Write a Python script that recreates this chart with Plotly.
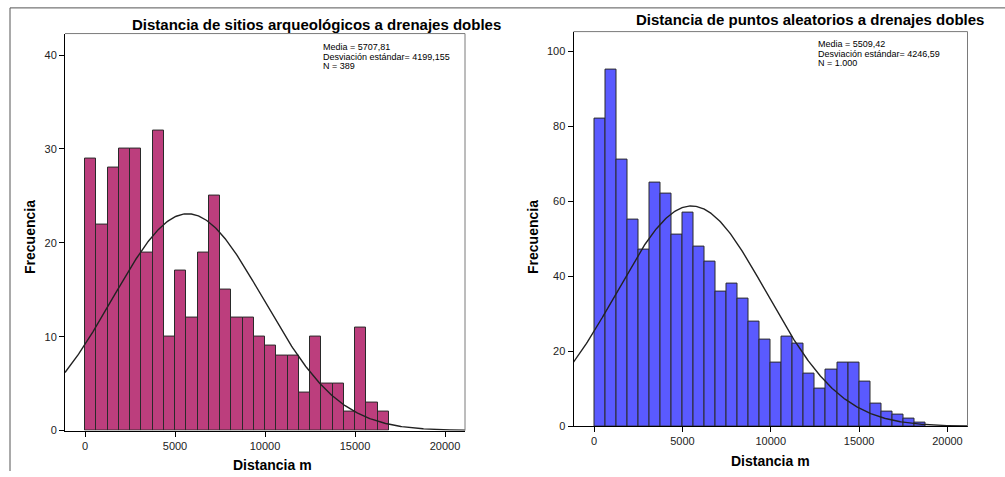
import numpy as np
import plotly.graph_objects as go

# ---------------- data ----------------
bin_width = 625
left_counts = [29, 22, 28, 30, 30, 19, 32, 10, 17, 12, 19, 25, 15, 12, 12, 10, 9, 8, 8, 4,
               10, 5, 5, 2, 11, 3, 2]
right_counts = [82, 95, 71, 55, 47, 65, 62, 51, 57, 48, 44, 36, 38, 34, 28, 23, 17, 24, 22, 14,
                10, 15, 17, 17, 12, 6, 4, 3, 2, 1]
left_stats = dict(mean=5707.81, sd=4199.155, n=389)
right_stats = dict(mean=5509.42, sd=4246.59, n=1000)
left_title = "Distancia de sitios arqueológicos a drenajes dobles"
right_title = "Distancia de puntos aleatorios a drenajes dobles"
left_lines = ["Media = 5707,81", "Desviación estándar= 4199,155", "N = 389"]
right_lines = ["Media = 5509,42", "Desviación estándar= 4246,59", "N = 1.000"]
x_ticks = [0, 5000, 10000, 15000, 20000]
x_ticktext = ["0", "5000", "10000", "15000", "20000"]
left_yticks = [0, 10, 20, 30, 40]
right_yticks = [0, 20, 40, 60, 80, 100]

# ---------------- layout constants ----------------
W, H = 1005, 477
FONT = "Liberation Sans, Arial, sans-serif"
left_color = "#BC3E7D"
right_color = "#5A5AFF"

def px(x):
    return x / W

def py(y):
    return 1 - y / H

fig = go.Figure()

def add_hist(counts, stats, color, xa, ya, xr):
    centers = [i * bin_width + bin_width / 2 for i in range(len(counts))]
    fig.add_trace(go.Bar(x=centers, y=counts, width=bin_width,
                         marker=dict(color=color, line=dict(color="#2a2a2a", width=1)),
                         xaxis=xa, yaxis=ya, showlegend=False, hoverinfo="skip"))
    xs = np.linspace(xr[0], xr[1], 400)
    ys = stats["n"] * bin_width / (stats["sd"] * np.sqrt(2 * np.pi)) * \
        np.exp(-0.5 * ((xs - stats["mean"]) / stats["sd"]) ** 2)
    fig.add_trace(go.Scatter(x=xs, y=ys, mode="lines", line=dict(color="#222222", width=1.4),
                             xaxis=xa, yaxis=ya, showlegend=False, hoverinfo="skip"))

# plot-area pixel boxes
L = dict(x0=65, x1=465, y0=34, y1=436)
R = dict(x0=573.5, x1=967.5, y0=32, y1=431.7)
left_xr = [-1111, 21111]
right_xr = [-1165, 21135]
left_yr = [0, 42.3]
right_yr = [0, 105.2]

add_hist(left_counts, left_stats, left_color, "x", "y", left_xr)
add_hist(right_counts, right_stats, right_color, "x2", "y2", right_xr)

axis_common = dict(showgrid=False, zeroline=False, showline=True, linecolor="black", linewidth=1,
                   ticks="outside", ticklen=5, tickcolor="black", tickwidth=1,
                   tickfont=dict(family=FONT, size=11, color="#222222"))

fig.update_layout(
    width=W, height=H, margin=dict(l=0, r=0, t=0, b=0),
    paper_bgcolor="white", plot_bgcolor="white", bargap=0,
    xaxis=dict(domain=[px(L["x0"]), px(L["x1"])], range=left_xr, tickvals=x_ticks,
               ticktext=x_ticktext, anchor="y", **axis_common),
    yaxis=dict(domain=[py(L["y1"]), py(L["y0"])], range=left_yr, tickvals=left_yticks,
               ticktext=[str(v) for v in left_yticks], anchor="x", **axis_common),
    xaxis2=dict(domain=[px(R["x0"]), px(R["x1"])], range=right_xr, tickvals=x_ticks,
                ticktext=x_ticktext, anchor="y2", **axis_common),
    yaxis2=dict(domain=[py(R["y1"]), py(R["y0"])], range=right_yr, tickvals=right_yticks,
                ticktext=[str(v) for v in right_yticks], anchor="x2", **axis_common),
)

shapes = []
# gray top/right frame of each plot
for b in (L, R):
    shapes.append(dict(type="line", xref="paper", yref="paper",
                       x0=px(b["x0"]), x1=px(b["x1"]), y0=py(b["y0"]), y1=py(b["y0"]),
                       line=dict(color="#7a7a7a", width=1)))
    shapes.append(dict(type="line", xref="paper", yref="paper",
                       x0=px(b["x1"]), x1=px(b["x1"]), y0=py(b["y0"]), y1=py(b["y1"]),
                       line=dict(color="#7a7a7a", width=1)))
# outer frame lines
shapes.append(dict(type="line", xref="paper", yref="paper", x0=px(10), x1=1, y0=py(8), y1=py(8),
                   line=dict(color="#555555", width=1)))
shapes.append(dict(type="line", xref="paper", yref="paper", x0=px(10), x1=px(10), y0=py(8), y1=0,
                   line=dict(color="#555555", width=1)))
fig.update_layout(shapes=shapes)

ann = []
def text(x, y, s, size, bold=False, xanchor="center", yanchor="middle", angle=0, align="center"):
    ann.append(dict(xref="paper", yref="paper", x=px(x), y=py(y), text=(f"<b>{s}</b>" if bold else s),
                    showarrow=False, xanchor=xanchor, yanchor=yanchor, textangle=angle, align=align,
                    font=dict(family=FONT, size=size, color="black")))

text(316, 25, left_title, 15, bold=True)
text(810, 20, right_title, 15, bold=True)
text(30, 240, "Frecuencia", 14, bold=True, angle=-90)
text(533, 240, "Frecuencia", 14, bold=True, angle=-90)
text(272, 471, "Distancia m", 14, bold=True)
text(770, 467, "Distancia m", 14, bold=True)
for i, s in enumerate(left_lines):
    text(321, 48 + 9.5 * i, s, 9, xanchor="left")
for i, s in enumerate(right_lines):
    text(816, 45 + 9.5 * i, s, 9, xanchor="left")
fig.update_layout(annotations=ann)

fig.write_html("out.html")
